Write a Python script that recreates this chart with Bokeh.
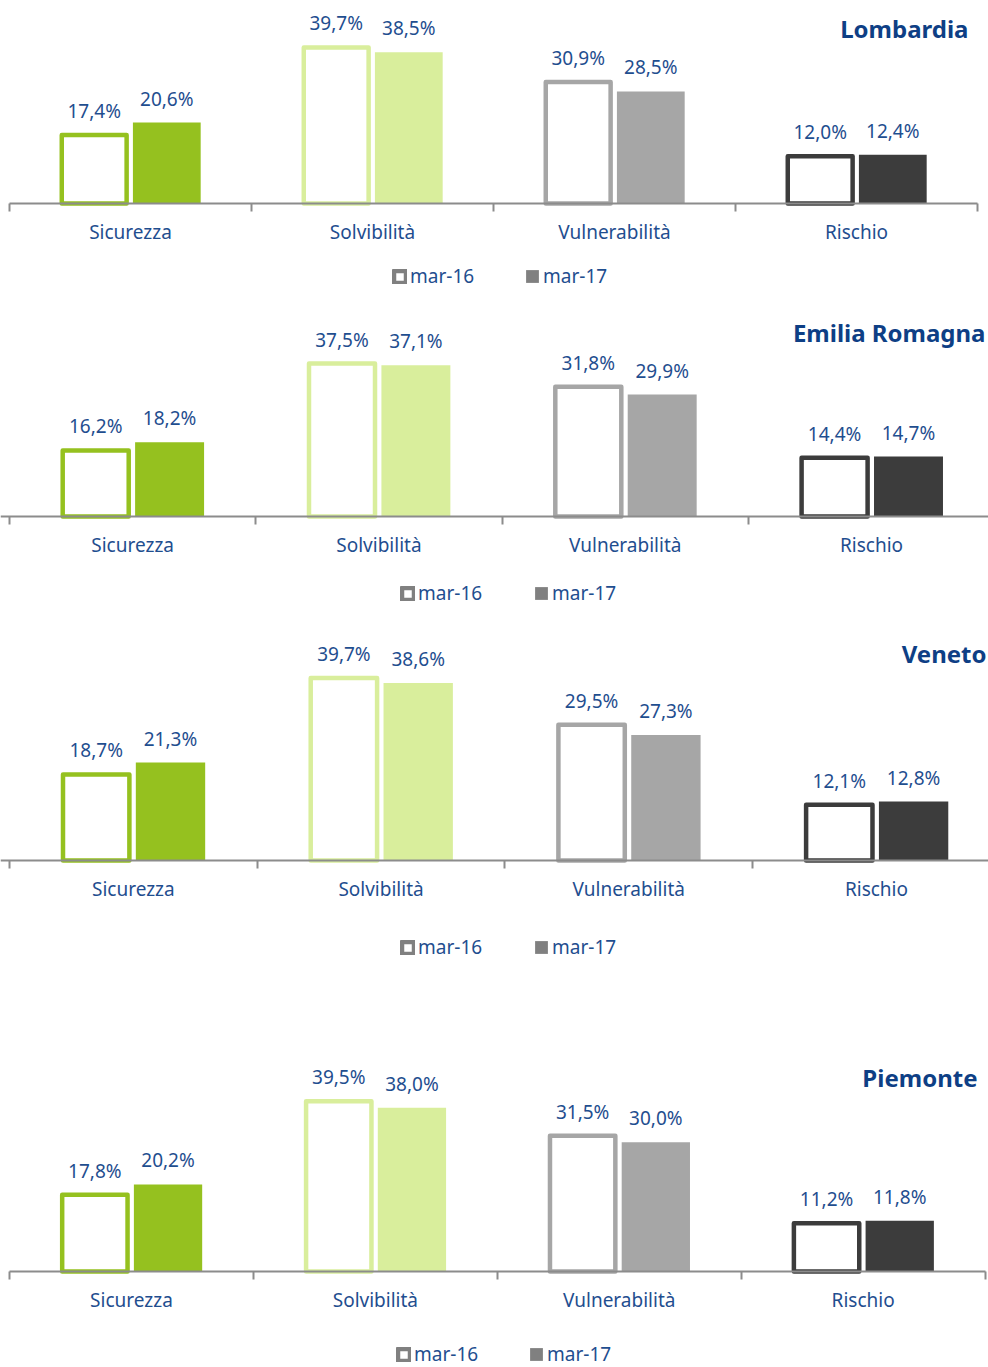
from bokeh.plotting import figure
from bokeh.models import (Range1d, LinearAxis, FixedTicker, ColumnDataSource, LabelSet,
                          Label, Legend, LegendItem)
from bokeh.core.properties import value
from bokeh.layouts import column
from bokeh.embed import file_html
from bokeh.resources import INLINE

# ---------------- data ----------------
categories = ["Sicurezza", "Solvibilità", "Vulnerabilità", "Rischio"]
series_names = ["mar-16", "mar-17"]
regions = ["Lombardia", "Emilia Romagna", "Veneto", "Piemonte"]

lombardia_mar16 = [17.4, 39.7, 30.9, 12.0]
lombardia_mar17 = [20.6, 38.5, 28.5, 12.4]
emilia_mar16 = [16.2, 37.5, 31.8, 14.4]
emilia_mar17 = [18.2, 37.1, 29.9, 14.7]
veneto_mar16 = [18.7, 39.7, 29.5, 12.1]
veneto_mar17 = [21.3, 38.6, 27.3, 12.8]
piemonte_mar16 = [17.8, 39.5, 31.5, 11.2]
piemonte_mar17 = [20.2, 38.0, 30.0, 11.8]

values16 = [lombardia_mar16, emilia_mar16, veneto_mar16, piemonte_mar16]
values17 = [lombardia_mar17, emilia_mar17, veneto_mar17, piemonte_mar17]

# ---------------- style ----------------
cat_colors = ["#95C11F", "#D9EE9C", "#A6A6A6", "#3C3C3C"]
LABEL_COLOR = "#1F4E8F"
TITLE_COLOR = "#0E3F85"
AXIS_COLOR = "#8C8C8C"
LEGEND_GRAY = "#808080"
FONT = "Noto Sans"
W = 988

# layout per panel: height, baseline px from top, px per %, category px width,
# axis bounded?, title right x, title y from top, legend center y from top,
# legend text start x for mar-16 and mar-17
panels = [
    dict(H=300, yb=203, s=3.93, cw=242.0, bounded=True, tx=968, ty=28, ly=280, lx=(410, 543)),
    dict(H=320, yb=216, s=4.08, cw=246.3, bounded=False, tx=985, ty=32, ly=297, lx=(418, 552)),
    dict(H=420, yb=240, s=4.60, cw=247.7, bounded=False, tx=986, ty=33, ly=331, lx=(418, 552)),
    dict(H=327, yb=231, s=4.31, cw=243.9, bounded=True, tx=977, ty=37, ly=318, lx=(414, 547)),
]
X0 = 9.0
OFF16, OFF17, BARW = 0.35, 0.65, 0.28

def fmt(v):
    return ("%.1f%%" % v).replace(".", ",")

figs = []
for k, cfg in enumerate(panels):
    H, yb, s, cw = cfg["H"], cfg["yb"], cfg["s"], cfg["cw"]
    p = figure(width=W, height=H, output_backend="svg", toolbar_location=None,
               x_range=Range1d(-X0 / cw, (W - X0) / cw),
               y_range=Range1d(-(H - yb) / s, yb / s),
               min_border=0, min_border_left=0, min_border_right=0,
               min_border_top=0, min_border_bottom=0)
    p.xaxis.visible = False
    p.yaxis.visible = False
    p.xgrid.visible = False
    p.ygrid.visible = False
    p.outline_line_color = None
    p.background_fill_color = "white"
    p.border_fill_color = "white"

    idx = list(range(len(categories)))
    src16 = ColumnDataSource(dict(x=[i + OFF16 for i in idx], top=values16[k],
                                  color=cat_colors, label=[fmt(v) for v in values16[k]]))
    src17 = ColumnDataSource(dict(x=[i + OFF17 for i in idx], top=values17[k],
                                  color=cat_colors, label=[fmt(v) for v in values17[k]]))

    p.vbar(x="x", top="top", bottom=0, width=BARW, source=src17,
           fill_color="color", line_color=None)
    p.vbar(x="x", top="top", bottom=0, width=BARW - 0.012, source=src16,
           fill_color="white", line_color="color", line_width=4.5, line_join="round")

    for src in (src16, src17):
        p.add_layout(LabelSet(x="x", y="top", text="label", source=src,
                              text_align="center", text_baseline="alphabetic",
                              y_offset=17, text_color=LABEL_COLOR,
                              text_font=value(FONT), text_font_size=value("19px")))

    # axis at baseline with ticks at category boundaries
    ax = LinearAxis(fixed_location=0,
                    ticker=FixedTicker(ticks=[i + 0.5 for i in idx],
                                       minor_ticks=list(range(len(categories) + 1))),
                    major_label_overrides={i + 0.5: c for i, c in zip(idx, categories)},
                    major_tick_out=0, major_tick_in=0,
                    minor_tick_out=8, minor_tick_in=0,
                    minor_tick_line_color=AXIS_COLOR, minor_tick_line_width=2,
                    axis_line_color=AXIS_COLOR, axis_line_width=2,
                    major_label_standoff=7,
                    major_label_text_color=LABEL_COLOR,
                    major_label_text_font=FONT,
                    major_label_text_font_size="19px")
    if cfg["bounded"]:
        ax.bounds = (0, len(categories))
    p.add_layout(ax, "below")

    # title
    p.add_layout(Label(x=cfg["tx"], y=H - cfg["ty"], x_units="screen", y_units="screen",
                       text=regions[k], text_align="right", text_baseline="middle",
                       text_color=TITLE_COLOR, text_font=FONT, text_font_style="bold",
                       text_font_size="24px"))

    # legend (gray swatches)
    r16 = p.vbar(x=[float("nan")], top=[float("nan")], width=0.1,
                 fill_color="white", line_color=LEGEND_GRAY, line_width=4.5,
                 line_join="round")
    r17 = p.vbar(x=[float("nan")], top=[float("nan")], width=0.1,
                 fill_color=LEGEND_GRAY, line_color=None)
    for r, name, tx0, gsz in ((r16, series_names[0], cfg["lx"][0], 15),
                              (r17, series_names[1], cfg["lx"][1], 16)):
        lh = 18
        lg = Legend(items=[LegendItem(label=name, renderers=[r])],
                    location=(tx0 - gsz - 3, H - cfg["ly"] - lh // 2),
                    orientation="horizontal",
                    border_line_color=None, background_fill_alpha=0,
                    padding=0, margin=0, spacing=0,
                    glyph_width=gsz, glyph_height=gsz, label_height=lh,
                    label_standoff=3, label_text_color=LABEL_COLOR,
                    label_text_font=FONT, label_text_font_size="19px")
        p.add_layout(lg, "center")
    figs.append(p)

layout = column(*figs, spacing=0)
open("out.html", "w").write(file_html(layout, INLINE))
